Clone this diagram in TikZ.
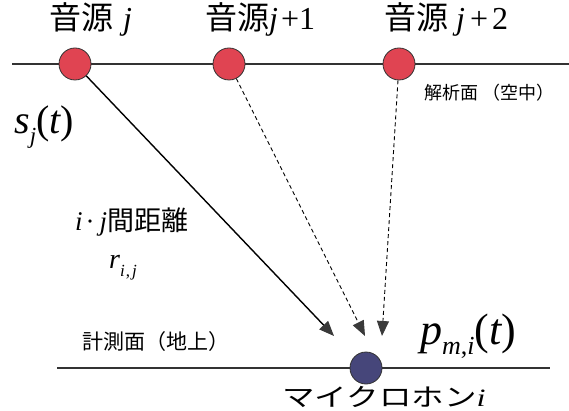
\documentclass[tikz,border=0pt]{standalone}
\usepackage{fontspec}
\newfontfamily\cjk{Noto Sans CJK JP}
\newfontfamily\tms{Liberation Serif}
\usetikzlibrary{arrows.meta}
\definecolor{srcred}{HTML}{E04452}
\definecolor{micblue}{HTML}{46467A}
\definecolor{headgray}{HTML}{3A3A3A}
\definecolor{linegray}{HTML}{333333}
\newcommand{\fs}[1]{\fontsize{#1}{#1}\selectfont}
\newcommand{\tmi}[1]{{\tms\itshape #1}}
\newcommand{\tmr}[1]{{\tms\upshape #1}}
\begin{document}
\begin{tikzpicture}[x=1pt,y=-1pt,
  plane/.style={draw=linegray,line width=1.1pt},
  src/.style={circle,draw=black!80,line width=0.8pt,fill=srcred,minimum size=32pt,inner sep=0pt},
  mic/.style={circle,draw=black!80,line width=0.8pt,fill=micblue,minimum size=32pt,inner sep=0pt},
  tiph/.style={-{Triangle[length=15pt,width=12pt,fill=headgray,color=headgray]}},
  solidarrow/.style={tiph,draw=black,line width=1.4pt},
  dasharrow/.style={tiph,draw=black,line width=0.9pt,dash pattern=on 4pt off 3pt},
  lab/.style={inner sep=0pt,anchor=west}
]
\useasboundingbox (0,0) rectangle (569,411);
\fill[white] (0,0) rectangle (569,411);
\draw[plane] (12,64) coordinate (tl) -- (569,64) coordinate (tr);
\draw[plane] (57,368) coordinate (bl) -- (550,368) coordinate (br);
\node[src] (s1) at (75,64) {};
\node[src] (s2) at (229,64) {};
\node[src] (s3) at (399,64) {};
\node[mic] (m) at (366,368) {};
\coordinate (t1) at (334,336);
\coordinate (t2) at (365,336);
\coordinate (t3) at (382,336);
\draw[solidarrow] (s1) -- (t1);
\draw[dasharrow] (s2) -- (t2);
\draw[dasharrow] (s3) -- (t3);
\node[lab] (l1) at (49,19) {\fs{32}\cjk 音源\hspace{10pt}\tmi{j}};
\node[lab] (l2) at (205,19) {\fs{32}\cjk 音源\tmi{j}\hspace{3pt}\tmr{+1}};
\node[lab] (l3) at (384,19) {\fs{32}\cjk 音源\hspace{8pt}\tmi{j}\hspace{5pt}\tmr{+\hspace{4pt}2}};
\node[lab] (air) at (424,93) {\fs{18}\cjk 解析面\hspace{4pt}（空中）};
\node[lab] (sj) at (14,127) {\fs{40}\tmi{s}\raisebox{-10pt}{\fs{23}\tmi{j}}\tmr{(}\tmi{t}\tmr{)}};
\node[lab] (dist) at (75,222) {\fs{27}\tmi{i}\hspace{3pt}\tmr{·}\hspace{5pt}\tmi{j}\cjk 間距離};
\node[lab] (r) at (109,268) {\fs{28}\tmi{r}\raisebox{-8pt}{\fs{17}\tmi{i}\hspace{1pt}\tmr{,}\hspace{2pt}\tmi{j}}};
\node[lab] (ground) at (82,342) {\fs{21}\cjk 計測面（地上）};
\node[lab] (p) at (420,336) {\fs{44}\tmi{p}\raisebox{-10pt}{\fs{26}\tmi{m}\tmr{,}\tmi{i}}\tmr{(}\tmi{t}\tmr{)}};
\node[lab] (micl) at (282,397) {\scalebox{1.3}[1]{\fs{25}\cjk マイクロホン\tmi{i}}};
\end{tikzpicture}
\end{document}
